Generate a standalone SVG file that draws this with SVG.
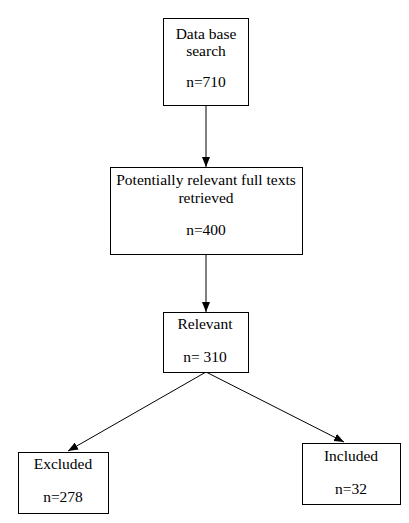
<svg xmlns="http://www.w3.org/2000/svg" width="409" height="523" viewBox="0 0 409 523">
<style>
.box{fill:#fff;stroke:#000;stroke-width:1}
.t{font-family:'Liberation Serif','DejaVu Serif',serif;font-size:15.5px;fill:#000;text-anchor:middle}
.c{stroke:#000;stroke-width:1;fill:none;marker-end:url(#ah)}
</style>
<defs>
<marker id="ah" markerWidth="10" markerHeight="8" refX="10" refY="4" orient="auto" markerUnits="userSpaceOnUse">
<path d="M0,0 L10,4 L0,8 Z" fill="#000"/>
</marker>
</defs>
<rect width="409" height="523" fill="#fff"/>
<g id="connectors">
<line class="c" x1="206" y1="105" x2="206" y2="167"/>
<line class="c" x1="206" y1="254" x2="206" y2="312"/>
<line class="c" x1="206" y1="372" x2="68" y2="451"/>
<line class="c" x1="206" y1="372" x2="344" y2="442"/>
</g>
<g id="n1">
<rect class="box" x="163.5" y="18.5" width="85" height="87"/>
<text class="t" x="206" y="39">Data base</text>
<text class="t" x="206" y="56">search</text>
<text class="t" x="206" y="87">n=710</text>
</g>
<g id="n2">
<rect class="box" x="110.5" y="167.5" width="192" height="87"/>
<text class="t" x="206" y="185">Potentially relevant full texts</text>
<text class="t" x="206" y="203">retrieved</text>
<text class="t" x="206" y="235">n=400</text>
</g>
<g id="n3">
<rect class="box" x="163.5" y="312.5" width="85" height="60"/>
<text class="t" x="205" y="329">Relevant</text>
<text class="t" x="205" y="362">n= 310</text>
</g>
<g id="n4">
<rect class="box" x="18.5" y="452.5" width="90" height="61"/>
<text class="t" x="63" y="469">Excluded</text>
<text class="t" x="63" y="502">n=278</text>
</g>
<g id="n5">
<rect class="box" x="302.5" y="443.5" width="98" height="61"/>
<text class="t" x="351" y="461">Included</text>
<text class="t" x="351" y="494">n=32</text>
</g>
</svg>
